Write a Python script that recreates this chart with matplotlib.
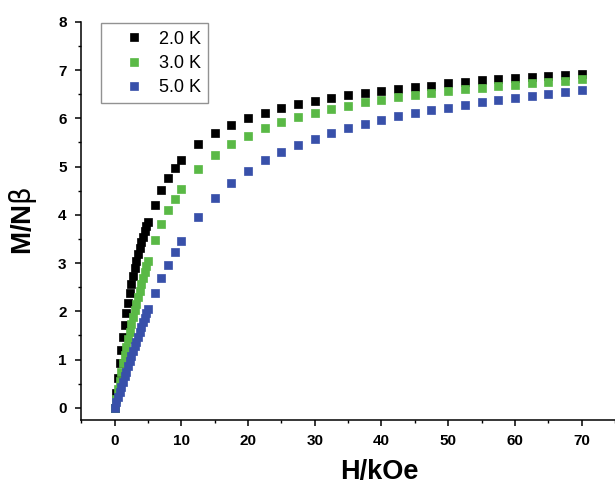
import numpy as np
import matplotlib
matplotlib.use('Agg')
import matplotlib.pyplot as plt
from matplotlib.ticker import MultipleLocator

plt.rcParams['font.family'] = ['Liberation Sans', 'DejaVu Sans']
plt.rcParams['mathtext.fontset'] = 'custom'
plt.rcParams['mathtext.rm'] = 'DejaVu Sans'

# field values (kOe)
field = [0.0, 0.25, 0.5, 0.75, 1.0, 1.25, 1.5, 1.75, 2.0, 2.25, 2.5, 2.75, 3.0,
         3.25, 3.5, 3.75, 4.0, 4.25, 4.5, 4.75, 5.0,
         6, 7, 8, 9, 10, 12.5, 15, 17.5, 20, 22.5, 25, 27.5, 30, 32.5, 35,
         37.5, 40, 42.5, 45, 47.5, 50, 52.5, 55, 57.5, 60, 62.5, 65, 67.5, 70]

m_2K = [0.00, 0.31, 0.62, 0.92, 1.20, 1.47, 1.72, 1.96, 2.18, 2.38, 2.57, 2.74,
        2.90, 3.05, 3.19, 3.32, 3.44, 3.55, 3.66, 3.76, 3.85,
        4.21, 4.52, 4.76, 4.97, 5.14, 5.47, 5.69, 5.87, 6.00, 6.12, 6.21, 6.29,
        6.36, 6.43, 6.49, 6.53, 6.57, 6.61, 6.65, 6.68, 6.73, 6.76, 6.79, 6.82,
        6.84, 6.86, 6.88, 6.90, 6.93]

m_3K = [0.00, 0.19, 0.38, 0.56, 0.74, 0.92, 1.09, 1.26, 1.42, 1.58, 1.73, 1.88,
        2.02, 2.16, 2.30, 2.43, 2.56, 2.69, 2.81, 2.93, 3.05,
        3.47, 3.81, 4.09, 4.33, 4.54, 4.95, 5.24, 5.47, 5.64, 5.79, 5.92, 6.03,
        6.12, 6.19, 6.25, 6.33, 6.38, 6.44, 6.49, 6.52, 6.57, 6.60, 6.64, 6.67,
        6.69, 6.73, 6.76, 6.78, 6.81]

m_5K = [0.00, 0.11, 0.22, 0.33, 0.44, 0.54, 0.65, 0.75, 0.86, 0.96, 1.07, 1.17,
        1.27, 1.37, 1.47, 1.57, 1.67, 1.77, 1.86, 1.96, 2.05,
        2.38, 2.68, 2.96, 3.22, 3.46, 3.95, 4.34, 4.67, 4.91, 5.13, 5.30, 5.44,
        5.58, 5.69, 5.80, 5.88, 5.96, 6.04, 6.11, 6.18, 6.22, 6.28, 6.33, 6.38,
        6.43, 6.47, 6.51, 6.55, 6.59]

labels = ['2.0 K', '3.0 K', '5.0 K']
colors = ['#000000', '#5ab946', '#3850aa']

fig = plt.figure(figsize=(6.15, 4.87), dpi=100)
ax = fig.add_axes([0.132, 0.138, 0.868, 0.817])

for m, lab, c in zip([m_2K, m_3K, m_5K], labels, colors):
    ax.plot(field, m, ls='none', marker='s', ms=6.1, color=c, mec=c, mew=0.5,
            label=lab)

ax.set_xlim(-5, 75)
ax.set_ylim(-0.25, 8)
ax.xaxis.set_major_locator(MultipleLocator(10))
ax.xaxis.set_minor_locator(MultipleLocator(5))
ax.yaxis.set_major_locator(MultipleLocator(1))
ax.yaxis.set_minor_locator(MultipleLocator(0.5))
ax.spines['top'].set_visible(False)
ax.spines['right'].set_visible(False)
for s in ('left', 'bottom'):
    ax.spines[s].set_linewidth(1.1)
ax.tick_params(which='major', direction='out', length=4.5, width=1.1, pad=6)
ax.tick_params(which='minor', direction='out', length=2.5, width=1.0)
for t in ax.get_xticklabels() + ax.get_yticklabels():
    t.set_fontweight('bold')
    t.set_fontsize(11)

ax.set_xlabel('H/kOe', fontsize=19.5, fontweight='bold', va='center')
ax.set_ylabel(r'M/N$\mathrm{\beta}$', fontsize=20, fontweight='bold', va='center')
ax.xaxis.set_label_coords(0.558, -0.13)
ax.yaxis.set_label_coords(-0.109, 0.5)

leg = ax.legend(loc='upper left', bbox_to_anchor=(0.165, 0.952),
                bbox_transform=fig.transFigure, fontsize=13, frameon=True,
                fancybox=False, edgecolor='#777777', borderaxespad=0,
                handlelength=2.75, handletextpad=0.05, markerscale=0.95,
                borderpad=0.4, labelspacing=0.4)
leg.get_frame().set_linewidth(1.0)

fig.savefig('out.png', dpi=100)
